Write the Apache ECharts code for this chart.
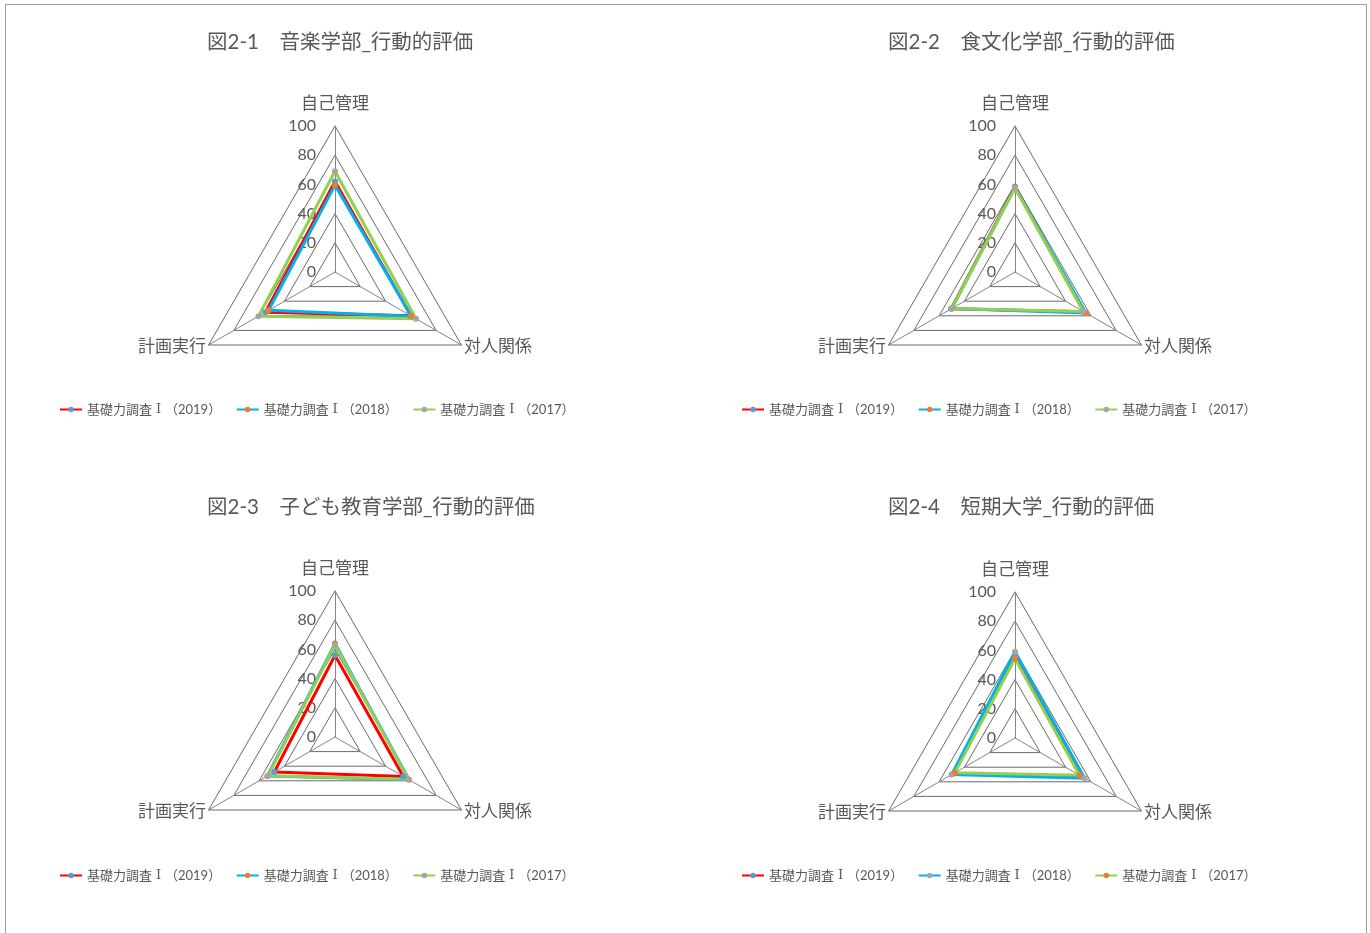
<!DOCTYPE html>
<html lang="ja">
<head>
<meta charset="utf-8">
<title>行動的評価</title>
<script src="https://cdn.jsdelivr.net/npm/echarts@6/dist/echarts.min.js"></script>
<style>
  html, body { margin: 0; padding: 0; background: #ffffff; }
  #main { width: 1370px; height: 933px; }
</style>
</head>
<body>
<div id="main"></div>
<script>
// Indicator names in the order 自己管理 / 対人関係 / 計画実行
const indicatorNames = ['自己管理', '対人関係', '計画実行'];
const years = ['2019', '2018', '2017'];
const chartTitles = [
  '図2-1　音楽学部_行動的評価',
  '図2-2　食文化学部_行動的評価',
  '図2-3　子ども教育学部_行動的評価',
  '図2-4　短期大学_行動的評価'
];

// Scores per survey year: [自己管理, 対人関係, 計画実行]
const music2019 = [62, 60, 55];
const music2018 = [59.5, 60.5, 52.5];
const music2017 = [69, 64, 60.5];

const food2019 = [58.5, 54.5, 50.5];
const food2018 = [58, 56, 50];
const food2017 = [57.5, 54, 50];

const child2019 = [56, 54, 48];
const child2018 = [64, 58.5, 53.5];
const child2017 = [63, 58, 53];

const college2019 = [56, 52, 48.5];
const college2018 = [59, 55, 50];
const college2017 = [54.5, 51, 47.5];

const panelValues = [
  [music2019, music2018, music2017],
  [food2019, food2018, food2017],
  [child2019, child2018, child2017],
  [college2019, college2018, college2017]
];

// Line colours and marker colours per year, per panel
const lineColors = ['#FF0000', '#00B0F0', '#92D050'];
const markerColors = [
  ['#5B9BD5', '#ED7D31', '#A5A5A5'],
  ['#5B9BD5', '#ED7D31', '#A5A5A5'],
  ['#5B9BD5', '#ED7D31', '#A5A5A5'],
  ['#5B9BD5', '#A5A5A5', '#ED7D31']
];

const FONT = "Lato, 'Noto Sans CJK JP', sans-serif";
const TEXT = '#595959';

// Panel placement on the page
const panels = [
  { cx: 335,  cy: 272, titleX: 207, titleY: 32,  legendX: 59,  legendY: 403 },
  { cx: 1015, cy: 272, titleX: 888, titleY: 32,  legendX: 741, legendY: 403 },
  { cx: 335,  cy: 737, titleX: 207, titleY: 497, legendX: 59,  legendY: 869 },
  { cx: 1015, cy: 738, titleX: 888, titleY: 497, legendX: 741, legendY: 869 }
];

// ECharts lays indicators out counter-clockwise from the top:
// top, bottom-left, bottom-right -> 自己管理, 計画実行, 対人関係
const order = [0, 2, 1];

const seriesKey = (k, j) => 'p' + (k + 1) + '_' + years[j];

const radars = panels.map((p) => ({
  center: [p.cx, p.cy],
  radius: 146,
  startAngle: 90,
  shape: 'polygon',
  splitNumber: 5,
  nameGap: 3,
  axisName: { color: TEXT, fontSize: 17, fontFamily: FONT },
  axisLine: { lineStyle: { color: '#858585', width: 1 } },
  splitLine: { lineStyle: { color: '#6a6a6a', width: 1 } },
  splitArea: { show: false },
  axisTick: { show: false },
  axisLabel: { show: false },
  indicator: order.map((idx, i) => {
    const ind = { name: indicatorNames[idx], min: 0, max: 100 };
    if (i === 0) {
      ind.nameGap = 14;
      ind.axisLabel = {
        show: true, color: TEXT, fontSize: 16, fontFamily: FONT, margin: 19,
        showMinLabel: true, showMaxLabel: true
      };
    }
    return ind;
  })
}));

const legendSeries = [];
const radarSeries = [];
panels.forEach((p, k) => {
  years.forEach((y, j) => {
    const name = seriesKey(k, j);
    // Empty line series: provides the line-with-marker legend icon
    legendSeries.push({
      type: 'line', name: name, xAxisIndex: 0, yAxisIndex: 0, data: [],
      symbol: 'circle', symbolSize: 6,
      itemStyle: { color: markerColors[k][j] },
      lineStyle: { color: lineColors[j], width: 3 }
    });
    radarSeries.push({
      type: 'radar', name: name, radarIndex: k,
      symbol: 'circle', symbolSize: 6,
      itemStyle: { color: markerColors[k][j] },
      lineStyle: { color: lineColors[j], width: 3 },
      data: [{ name: name, value: order.map((idx) => panelValues[k][j][idx]) }]
    });
  });
});

const option = {
  animation: false,
  backgroundColor: '#ffffff',
  title: panels.map((p, k) => ({
    text: chartTitles[k], left: p.titleX, top: p.titleY, padding: 0,
    textStyle: { color: TEXT, fontSize: 20.5, fontWeight: 'normal', fontFamily: FONT }
  })),
  legend: panels.map((p, k) => ({
    data: years.map((y, j) => seriesKey(k, j)),
    left: p.legendX, top: p.legendY, padding: 0,
    itemWidth: 22, itemHeight: 7, itemGap: 14.5,
    selectedMode: false,
    formatter: (name) => '基礎力調査{r|Ⅰ}（' + name.split('_')[1] + '）',
    textStyle: {
      color: TEXT, fontSize: 13, fontFamily: FONT,
      rich: { r: { color: TEXT, fontSize: 13, width: 13, align: 'center', fontFamily: "'DejaVu Serif', 'Liberation Serif', serif" } }
    }
  })),
  grid: { show: false, left: -60, top: -60, width: 10, height: 10 },
  xAxis: { type: 'value', show: false },
  yAxis: { type: 'value', show: false },
  radar: radars,
  graphic: [{
    type: 'rect', silent: true,
    shape: { x: 5.5, y: 4.5, width: 1361, height: 945 },
    style: { fill: 'none', stroke: '#3a3a3a', lineWidth: 1, lineDash: [1, 1] }
  }],
  series: legendSeries.concat(radarSeries)
};

const chart = echarts.init(document.getElementById('main'), null, { renderer: 'canvas' });
chart.setOption(option);
</script>
</body>
</html>
